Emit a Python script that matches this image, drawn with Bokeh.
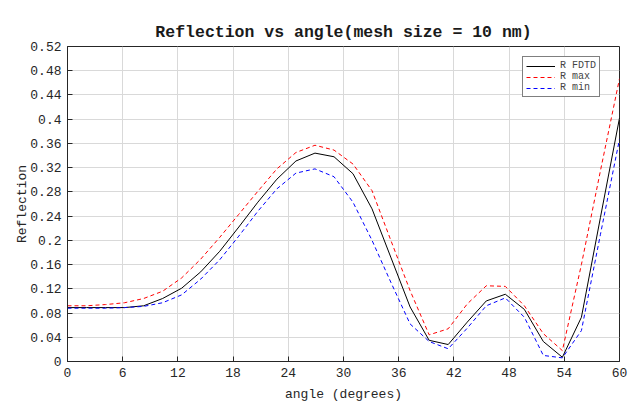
from bokeh.plotting import figure
from bokeh.models import FixedTicker, CustomJSTickFormatter, Range1d, Legend, LegendItem
from bokeh.embed import file_html
from bokeh.resources import INLINE

angles = [0, 2.07, 4.14, 6.21, 8.28, 10.34, 12.41, 14.48, 16.55, 18.62, 20.69, 22.76,
          24.83, 26.9, 28.97, 31.03, 33.1, 35.17, 37.24, 39.31, 41.38, 43.45, 45.52,
          47.59, 49.66, 51.72, 53.79, 55.86, 57.93, 60]
r_fdtd = [0.089, 0.089, 0.089, 0.089, 0.092, 0.104, 0.121, 0.148, 0.182, 0.222, 0.263, 0.301,
          0.331, 0.344, 0.338, 0.310, 0.252, 0.171, 0.090, 0.035, 0.028, 0.065, 0.100,
          0.111, 0.086, 0.033, 0.007, 0.073, 0.238, 0.402]
r_max = [0.092, 0.092, 0.094, 0.097, 0.104, 0.116, 0.138, 0.169, 0.205, 0.243, 0.281, 0.318,
         0.345, 0.357, 0.349, 0.326, 0.282, 0.199, 0.117, 0.044, 0.054, 0.095, 0.125,
         0.124, 0.092, 0.046, 0.018, 0.160, 0.315, 0.467]
r_min = [0.088, 0.088, 0.088, 0.089, 0.091, 0.097, 0.110, 0.136, 0.168, 0.207, 0.248, 0.285,
         0.311, 0.318, 0.305, 0.263, 0.200, 0.130, 0.062, 0.033, 0.021, 0.055, 0.092,
         0.105, 0.073, 0.010, 0.006, 0.051, 0.210, 0.367]
x_ticks = [0, 6, 12, 18, 24, 30, 36, 42, 48, 54, 60]
y_ticks = [0, 0.04, 0.08, 0.12, 0.16, 0.2, 0.24, 0.28, 0.32, 0.36, 0.4, 0.44, 0.48, 0.52]

FONT = "Liberation Mono"

p = figure(width=640, height=418, output_backend="svg", toolbar_location=None,
           x_range=Range1d(0, 60), y_range=Range1d(0, 0.52),
           min_border_left=67, min_border_right=21, min_border_top=46, min_border_bottom=57,
           title="Reflection vs angle(mesh size = 10 nm)")

p.title.align = "center"
p.title.text_font = FONT
p.title.text_font_size = "16.5px"
p.title.text_font_style = "bold"
p.title.text_color = "#1a1a1a"

p.background_fill_color = "white"
p.border_fill_color = "white"
p.outline_line_color = "#262626"
p.outline_line_width = 1

p.xgrid.grid_line_color = "#d9d9d9"
p.ygrid.grid_line_color = "#d9d9d9"

p.xaxis.ticker = FixedTicker(ticks=x_ticks)
p.yaxis.ticker = FixedTicker(ticks=y_ticks)
p.yaxis.formatter = CustomJSTickFormatter(code="return String(+tick.toFixed(2));")
p.xaxis.formatter = CustomJSTickFormatter(code="return String(+tick.toFixed(0));")

for ax in (p.xaxis, p.yaxis):
    ax.major_tick_in = 5
    ax.major_tick_out = 0
    ax.minor_tick_in = 0
    ax.minor_tick_out = 0
    ax.axis_line_color = "#262626"
    ax.major_tick_line_color = "#262626"
    ax.major_label_text_font = FONT
    ax.major_label_text_font_size = "13px"
    ax.major_label_text_color = "#262626"
    ax.axis_label_text_font = FONT
    ax.axis_label_text_font_size = "13px"
    ax.axis_label_text_font_style = "normal"
    ax.axis_label_text_color = "#262626"

p.xaxis.axis_label = "angle (degrees)"
p.yaxis.axis_label = "Reflection"
p.xaxis.major_label_standoff = 6
p.yaxis.major_label_standoff = 6
p.xaxis.axis_label_standoff = 7
p.yaxis.axis_label_standoff = -3

l1 = p.line(angles, r_fdtd, line_color="black", line_width=1)
l2 = p.line(angles, r_max, line_color="#ff0000", line_width=1, line_dash="4 3")
l3 = p.line(angles, r_min, line_color="#0000ff", line_width=1, line_dash="4 3")

legend = Legend(items=[LegendItem(label="R FDTD", renderers=[l1]),
                       LegendItem(label="R max", renderers=[l2]),
                       LegendItem(label="R min", renderers=[l3])],
                location=(455, 264))
legend.label_text_font = FONT
legend.label_text_font_size = "10px"
legend.label_height = 10
legend.glyph_height = 10
legend.glyph_width = 29
legend.label_width = 10
legend.spacing = 0
legend.padding = 3
legend.margin = 0
legend.label_standoff = 5
legend.border_line_color = "black"
legend.border_line_width = 1
legend.background_fill_alpha = 1
p.add_layout(legend, "center")

open("out.html", "w").write(file_html(p, INLINE))
